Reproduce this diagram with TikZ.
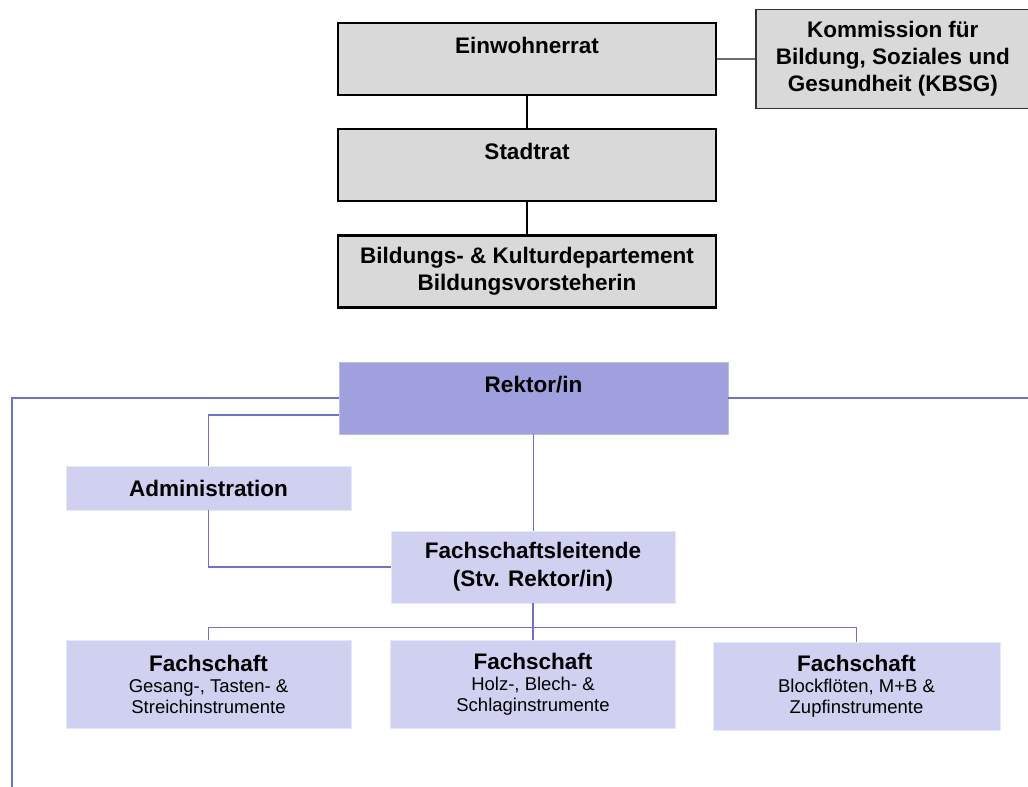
\documentclass[tikz,border=0pt]{standalone}
\usepackage{fontspec}
\setmainfont{Liberation Sans}
\usetikzlibrary{positioning}
\definecolor{boxgray}{RGB}{217,217,217}
\definecolor{rektorblue}{RGB}{160,160,222}
\definecolor{lightblue}{RGB}{208,208,240}
\definecolor{lineblue}{RGB}{112,112,210}
\definecolor{connectgray}{RGB}{110,110,110}

\begin{document}
\begin{tikzpicture}[x=1pt, y=-1pt,
    node distance=32pt,
    gremium/.style={rectangle, draw=black, line width=2.2pt, fill=boxgray, minimum width=378pt, minimum height=72pt, align=center, font=\bfseries\fontsize{22.5}{27.5}\selectfont},
    kommission/.style={rectangle, draw=black!80, line width=1.5pt, fill=boxgray, minimum width=274pt, minimum height=99pt, align=center, font=\bfseries\fontsize{22.5}{27}\selectfont},
    rektor/.style={rectangle, draw=rektorblue!70!white, line width=0.8pt, fill=rektorblue, minimum width=389pt, minimum height=72pt, align=center, font=\bfseries\fontsize{22.5}{27.5}\selectfont},
    stelle/.style={rectangle, draw=lightblue!50!white, line width=0.8pt, fill=lightblue, minimum width=285pt, align=center, font=\bfseries\fontsize{22.5}{28}\selectfont},
    fach/.style={stelle, minimum height=88pt, font=\fontsize{18.5}{21}\selectfont},
    link/.style={line width=1.2pt, black},
    conn/.style={line width=1.2pt, lineblue},
    outer/.style={line width=2pt, lineblue}
]
\useasboundingbox (0,0) rectangle (1028,787);

% Behoerden
\node[gremium] (einwohner) at (527,59) {Einwohnerrat\\~};
\node[gremium, below=of einwohner] (stadtrat) {Stadtrat\\~};
\node[gremium, below=of stadtrat] (departement) {Bildungs- \& Kulturdepartement\\Bildungsvorsteherin};
\node[kommission, right=38pt of einwohner] (kbsg) {Kommission für\\Bildung, Soziales und\\Gesundheit (KBSG)};

\draw[link] (einwohner) -- (stadtrat);
\draw[link] (stadtrat) -- (departement);
\draw[line width=2.5pt, connectgray] (einwohner.east) -- (kbsg.west);

% Schulleitung
\node[rektor] (rektor) at (533.5,398) {Rektor/in\\~};
\node[stelle, minimum height=44pt] (admin) at (208.5,488) {Administration};
\node[stelle, minimum width=284pt, minimum height=72pt] (leitende) at (533,567) {Fachschaftsleitende\\(Stv. Rektor/in)};

% Fachschaften
\node[fach] (fach1) at (208.5,684) {{\bfseries\fontsize{22.5}{26}\selectfont Fachschaft}\\Gesang-, Tasten- \&\\Streichinstrumente};
\node[fach] (fach2) at (533,684) {{\bfseries\fontsize{22.5}{26}\selectfont Fachschaft}\\Holz-, Blech- \&\\Schlaginstrumente};
\node[fach, minimum width=287pt] (fach3) at (856.5,686) {{\bfseries\fontsize{22.5}{26}\selectfont Fachschaft}\\Blockflöten, M+B \&\\Zupfinstrumente};

\coordinate (leftend) at (12,787);
\coordinate (rightend) at (1028,398);

% Verbindungen
\draw[outer] (rektor.west) -| (leftend);
\draw[outer] (rektor.east) -- (rightend);
\draw[conn] ([yshift=-17pt]rektor.west) -| (admin.north);
\draw[conn] (admin.south) |- (leitende.west);
\draw[conn] (rektor.south) -- (rektor.south |- leitende.north);
\draw[conn] (fach1.north) -- ++(0,-12) -| (fach3.north);
\draw[conn] (leitende.south) -- (leitende.south |- fach2.north);

\end{tikzpicture}
\end{document}
